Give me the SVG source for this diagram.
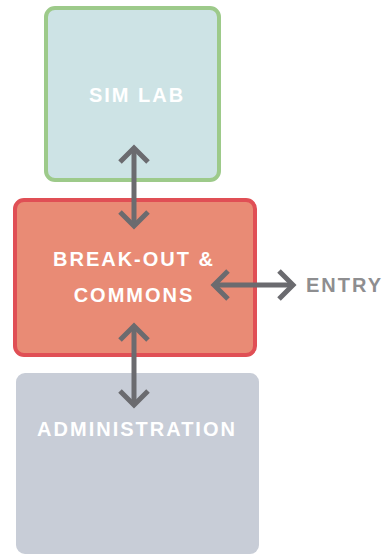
<svg xmlns="http://www.w3.org/2000/svg" width="390" height="555" viewBox="0 0 390 555">
  <defs>
    <style>
      .label { font-family: "Liberation Sans", Arial, sans-serif; font-weight: bold; font-size: 20px; letter-spacing: 2px; fill: #ffffff; text-anchor: middle; }
      .outside { fill: #8e8e90; text-anchor: start; }
      .link { fill: none; stroke: #6b6b6f; stroke-width: 5; marker-start: url(#chev); marker-end: url(#chev); }
    </style>
    <marker id="chev" viewBox="-20 -20 40 40" refX="0" refY="0" markerWidth="40" markerHeight="40" markerUnits="userSpaceOnUse" orient="auto-start-reverse">
      <path d="M-14,-14 L0,0 L-14,14" fill="none" stroke="#6b6b6f" stroke-width="5"/>
    </marker>
  </defs>

  <rect width="390" height="555" fill="#ffffff"/>

  <g id="sim-lab">
    <rect x="46" y="8" width="173" height="172" rx="9" fill="#cde3e5" stroke="#9dca8a" stroke-width="4"/>
    <text class="label" x="137" y="102">SIM LAB</text>
  </g>

  <g id="break-out">
    <rect x="15" y="200" width="240" height="155" rx="9" fill="#e98b75" stroke="#e04f55" stroke-width="4"/>
    <text class="label" x="134" y="266">BREAK-OUT &amp;</text>
    <text class="label" x="134" y="302">COMMONS</text>
  </g>

  <g id="administration">
    <rect x="16" y="373" width="243" height="181" rx="9" fill="#c8cdd7"/>
    <text class="label" x="137" y="436">ADMINISTRATION</text>
  </g>

  <g id="entry">
    <text class="label outside" x="306" y="292">ENTRY</text>
  </g>

  <g id="connectors">
    <line class="link" x1="134" y1="148" x2="134" y2="226"/>
    <line class="link" x1="134" y1="326" x2="134" y2="405"/>
    <line class="link" x1="214" y1="285" x2="293" y2="285"/>
  </g>
</svg>
